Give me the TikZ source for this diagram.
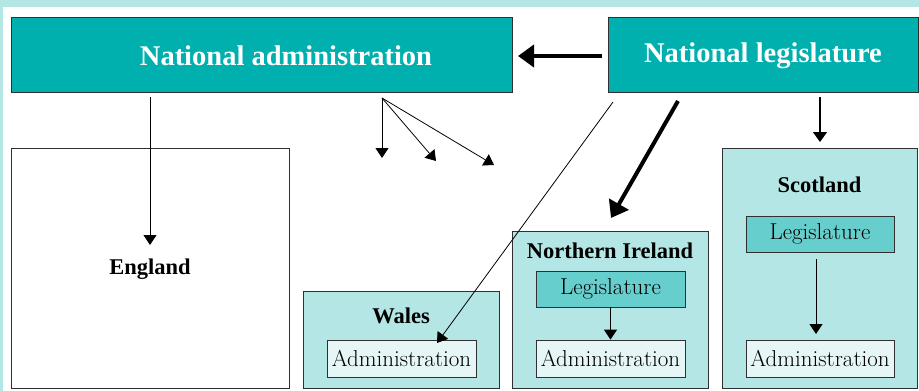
\documentclass[tikz,border=0pt]{standalone}
\usepackage{fontspec}
\newfontfamily\headfont{Liberation Serif}
\usetikzlibrary{arrows.meta}
\definecolor{frame}{HTML}{B3E6E4}
\definecolor{teal1}{HTML}{00B0AE}
\definecolor{region}{HTML}{B3E6E4}
\definecolor{legis}{HTML}{66CFCD}
\definecolor{admin}{HTML}{E6F6F6}
\definecolor{edge}{HTML}{303030}
\tikzset{
  natbox/.style={draw=edge, line width=1pt, fill=teal1, inner sep=0pt},
  regbox/.style={draw=edge, line width=0.9pt, fill=region, inner sep=0pt},
  legbox/.style={draw=edge, line width=0.8pt, fill=legis, inner sep=0pt, font=\rmfamily\fontsize{23}{25}\selectfont},
  admbox/.style={draw=edge, line width=0.8pt, fill=admin, inner sep=0pt, font=\rmfamily\fontsize{23}{25}\selectfont},
  title/.style={text=white, font=\headfont\bfseries\fontsize{28.5}{30}\selectfont},
  rlabel/.style={font=\headfont\bfseries\fontsize{22.5}{24}\selectfont},
  thin/.style={line width=0.8pt, -{Triangle[width=13pt,length=10pt]}},
  thick/.style={line width=4pt, -{Triangle[width=22pt,length=16pt]}},
}
\begin{document}
\begin{tikzpicture}[x=1pt,y=-1pt]
\fill[frame] (0,0) rectangle (919,391);
\fill[white] (3,7) rectangle (919,391);
\useasboundingbox (0,0) rectangle (919,391);
% national boxes
\node[natbox, minimum width=501pt, minimum height=75pt] (na) at (261.5,54.5) {};
\node[title] (nat) at (286,56) {National administration};
\node[natbox, minimum width=310pt, minimum height=75pt] (nl) at (763,54.5) {};
\node[title] (nlt) at (763,56) {National legislature};
% England
\node[draw=edge, line width=0.9pt, fill=white, minimum width=278pt, minimum height=240pt, inner sep=0pt] (eng) at (150,268) {};
\node[rlabel] (engl) at (150,269) {England};
% Wales
\node[regbox, minimum width=196pt, minimum height=97pt] (wal) at (401,339.5) {};
\node[rlabel] (wall) at (401,316) {Wales};
\node[admbox, minimum width=149pt, minimum height=37pt] (wadm) at (401.5,358.5) {Administration};
% Northern Ireland
\node[regbox, minimum width=196pt, minimum height=157pt] (ni) at (610,309.5) {};
\node[rlabel] (nil) at (610,251) {Northern Ireland};
\node[legbox, minimum width=149pt, minimum height=36pt] (nileg) at (610.5,289) {Legislature};
\node[admbox, minimum width=149pt, minimum height=37pt] (niadm) at (610.5,358.5) {Administration};
% Scotland
\node[regbox, minimum width=195pt, minimum height=240pt] (sc) at (819.5,268) {};
\node[rlabel] (scl) at (819.5,185) {Scotland};
\node[legbox, minimum width=148pt, minimum height=36pt] (scleg) at (820,234) {Legislature};
\node[admbox, minimum width=148pt, minimum height=37pt] (scadm) at (820,358.5) {Administration};
% coordinates for connectors
\coordinate (o1) at (382,98);
\coordinate (t1) at (382,158);
\coordinate (t2) at (436,161);
\coordinate (t3) at (494,165);
\coordinate (es) at (150,97);
\coordinate (ee) at (150,245);
\coordinate (ls) at (602,56);
\coordinate (le) at (518,56);
\coordinate (ws) at (613,102);
\coordinate (we) at (437,343);
\coordinate (ns) at (678,101);
\coordinate (ne) at (611,218);
\coordinate (ss) at (820,97);
\coordinate (se) at (820,142);
\coordinate (scs) at (816,259);
\coordinate (sce) at (816,334);
% connectors
\draw[thick] (ls) -- (le);
\draw[thin] (es) -- (ee);
\draw[thin] (o1) -- (t1);
\draw[thin] (o1) -- (t2);
\draw[thin] (o1) -- (t3);
\draw[thin] (ws) -- (we);
\draw[thick] (ns) -- (ne);
\draw[line width=1.5pt, -{Triangle[width=14pt,length=10pt]}] (ss) -- (se);
\draw[thin] (nileg.south) -- (niadm.north);
\draw[thin] (scs) -- (sce);
\end{tikzpicture}
\end{document}
